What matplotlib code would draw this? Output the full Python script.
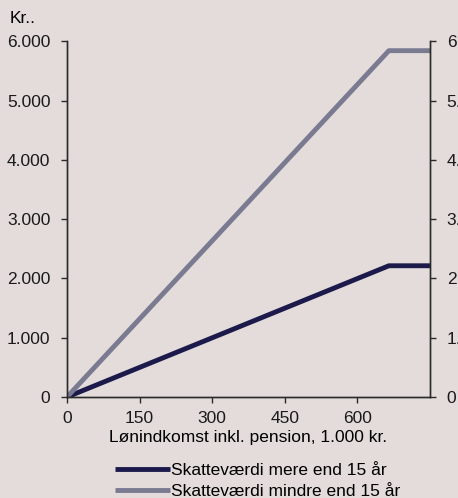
import matplotlib.pyplot as plt
from matplotlib.ticker import FuncFormatter

# Lønindkomst (1.000 kr.) og skatteværdi (kr.)
income = [0, 665, 750]
value_over_15 = [0, 2215, 2215]
value_under_15 = [0, 5845, 5845]

x_ticks = [0, 150, 300, 450, 600]
y_ticks = [0, 1000, 2000, 3000, 4000, 5000, 6000]

bg = '#e3dcda'
dark = '#1b1a4b'
grey = '#7a7a91'
axis_col = '#2b2b2b'

plt.rcParams['font.family'] = ['Liberation Sans', 'DejaVu Sans']
plt.rcParams['font.size'] = 12.5

fig = plt.figure(figsize=(4.58, 4.98), dpi=100, facecolor=bg)
ax = fig.add_axes([0.1463, 0.2028, 0.7926, 0.7139], facecolor=bg)

l1, = ax.plot(income, value_over_15, color=dark, lw=3.5, solid_capstyle='butt',
              label='Skatteværdi mere end 15 år')
l2, = ax.plot(income, value_under_15, color=grey, lw=3.5, solid_capstyle='butt',
              label='Skatteværdi mindre end 15 år')

ax.set_xlim(0, 750)
ax.set_ylim(0, 6000)
ax.set_xticks(x_ticks)
ax.set_yticks(y_ticks)

fmt = FuncFormatter(lambda v, p: f'{int(v):,}'.replace(',', '.'))
ax.yaxis.set_major_formatter(fmt)

ax2 = ax.twinx()
ax2.set_ylim(0, 6000)
ax2.set_yticks(y_ticks)
ax2.yaxis.set_major_formatter(fmt)

for a in (ax, ax2):
    a.spines['top'].set_visible(False)
    for s in a.spines.values():
        s.set_color(axis_col)
        s.set_linewidth(1.0)
    a.tick_params(colors=axis_col, labelcolor='#1a1a1a', length=4, width=1.0)
ax.tick_params(axis='y', pad=8)
ax2.tick_params(axis='y', pad=8)
ax.tick_params(axis='x', pad=6)

ax.set_xlabel('Lønindkomst inkl. pension, 1.000 kr.', labelpad=3)
fig.text(0.02, 0.963, 'Kr..', ha='left', va='center')

fig.legend(handles=[l1, l2], loc='lower left', bbox_to_anchor=(0.251, -0.002),
           frameon=False, handlelength=3.15, handletextpad=0.1,
           labelspacing=0.32, borderpad=0.0, borderaxespad=0.0)

fig.savefig('out.png', dpi=100, facecolor=bg)
